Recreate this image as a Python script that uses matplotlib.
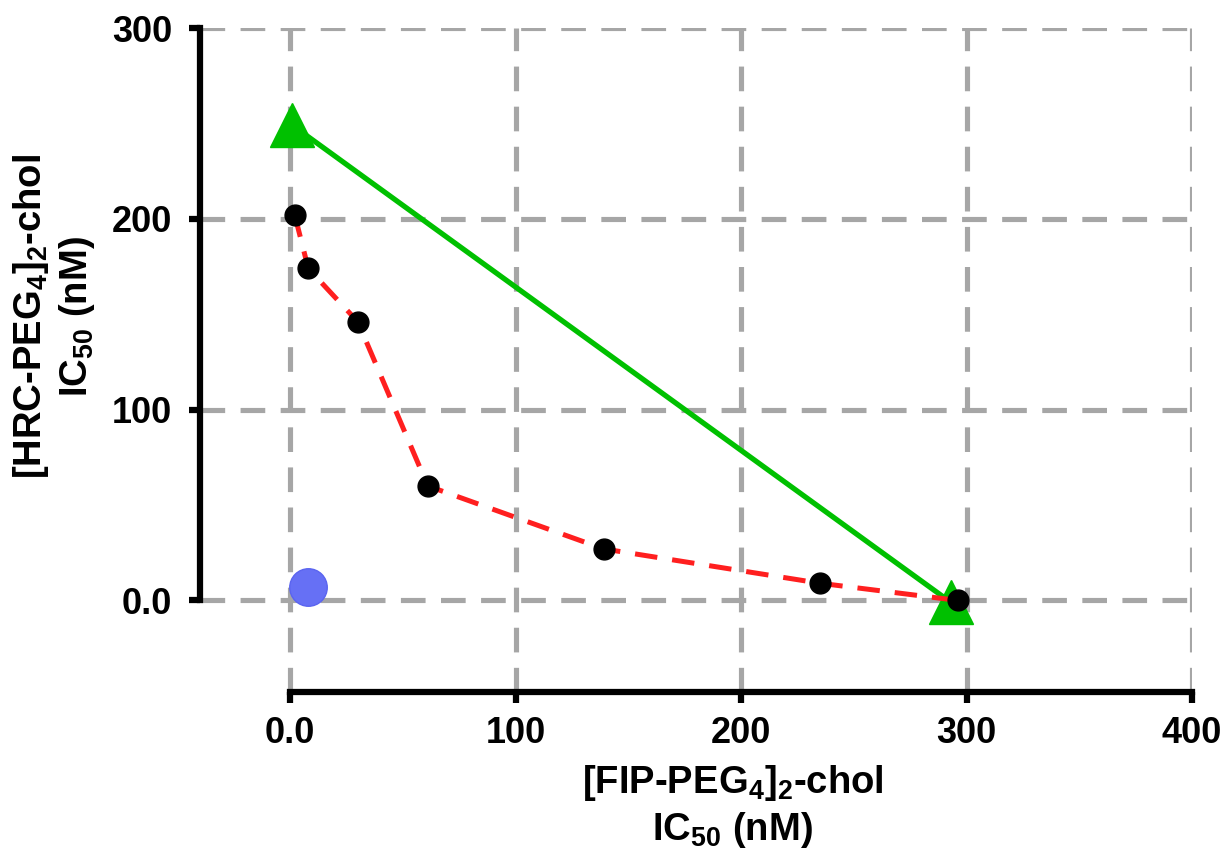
import numpy as np
import matplotlib
matplotlib.use("Agg")
import matplotlib.pyplot as plt

plt.rcParams['font.family'] = ['Liberation Sans', 'DejaVu Sans']
plt.rcParams['font.weight'] = 'bold'
plt.rcParams['mathtext.fontset'] = 'custom'
plt.rcParams['mathtext.rm'] = 'Liberation Sans:bold'
plt.rcParams['mathtext.default'] = 'rm'

# combination points (red dashed isobole)
fip_combo = [2, 8, 30, 61, 139, 235, 296]
hrc_combo = [202, 174, 146, 60, 27, 9, 0]

# single-agent IC50s (green additivity line)
fip_single = [1, 293]
hrc_single = [249, -1]

# blue point
fip_blue = [8]
hrc_blue = [7]

xticks = [0, 100, 200, 300, 400]
xticklabels = ['0.0', '100', '200', '300', '400']
yticks = [0, 100, 200, 300]
yticklabels = ['0.0', '100', '200', '300']

fig = plt.figure(figsize=(12.25, 8.52), dpi=100)
ax = fig.add_axes([0.1633, 0.1878, 0.8098, 0.7793])

ax.set_xlim(-40, 400)
ax.set_ylim(-48, 300)

ax.grid(True, color='#a6a6a6', linewidth=3.7, linestyle=(0, (4.8, 3.0)), zorder=0)
ax.set_axisbelow(True)

ax.plot(fip_single, hrc_single, color='#00c000', linewidth=3.8, zorder=3)
ax.plot(fip_single, hrc_single, linestyle='none', marker='^', markersize=31,
        color='#00c000', zorder=4, clip_on=False)
ax.plot(fip_combo, hrc_combo, color='#ff1f1f', linewidth=3.6,
        linestyle=(0, (4.5, 3.0)), zorder=5)
ax.plot(fip_combo, hrc_combo, linestyle='none', marker='o', markersize=15,
        color='black', zorder=6)
ax.plot(fip_blue, hrc_blue, linestyle='none', marker='o', markersize=27,
        color='#6670f5', markeredgecolor='#5a64f0', zorder=6)

for s in ['top', 'right']:
    ax.spines[s].set_visible(False)
ax.spines['left'].set_bounds(0, 300)
ax.spines['bottom'].set_bounds(0, 400)
ax.spines['left'].set_linewidth(4.5)
ax.spines['bottom'].set_linewidth(4.5)

ax.set_xticks(xticks)
ax.set_xticklabels(xticklabels)
ax.set_yticks(yticks)
ax.set_yticklabels(yticklabels)
ax.tick_params(axis='both', direction='out', length=8, width=4.5, labelsize=26)
ax.tick_params(axis='y', pad=12)
ax.tick_params(axis='x', pad=9)
for lab in ax.get_xticklabels() + ax.get_yticklabels():
    lab.set_fontweight('bold')

ax.set_xlabel('[FIP-PEG$_4$]$_2$-chol\nIC$_{50}$ (nM)', fontsize=27.5, fontweight='bold',
              linespacing=1.22)
ax.xaxis.set_label_coords(0.537, -0.107)
ax.set_ylabel('[HRC-PEG$_4$]$_2$-chol\nIC$_{50}$ (nM)', fontsize=27.5, fontweight='bold',
              linespacing=1.2)
ax.yaxis.set_label_coords(-0.104, 0.566)

fig.savefig('out.png', dpi=100)
